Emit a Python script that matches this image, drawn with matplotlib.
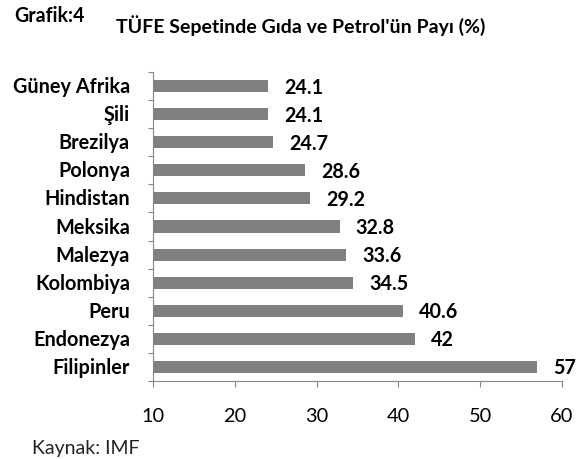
import matplotlib
matplotlib.use("Agg")
import matplotlib.pyplot as plt
from matplotlib.textpath import TextPath
from matplotlib.font_manager import FontProperties

# data (top to bottom)
countries = ["Güney Afrika", "Şili", "Brezilya", "Polonya", "Hindistan", "Meksika",
             "Malezya", "Kolombiya", "Peru", "Endonezya", "Filipinler"]
values = [24.1, 24.1, 24.7, 28.6, 29.2, 32.8, 33.6, 34.5, 40.6, 42, 57]
value_labels = ["24.1", "24.1", "24.7", "28.6", "29.2", "32.8", "33.6", "34.5", "40.6", "42", "57"]
xticks = [10, 20, 30, 40, 50, 60]

FAMILY = "Lato"  # close to Calibri
plt.rcParams["font.family"] = [FAMILY, "DejaVu Sans"]


def fit_size(text, width_px, weight="normal"):
    # font size (pt) that makes text about width_px wide at 100 dpi
    fp = FontProperties(family=FAMILY, weight=weight, size=10)
    w = TextPath((0, 0), text, prop=fp).get_extents().width  # in points at size 10
    return 10 * (width_px * 0.72) / w


lab_fs = fit_size("Güney Afrika", 115, "bold")
val_fs = fit_size("24.1", 37, "bold")
tick_fs = fit_size("10", 21)
title_fs = fit_size("TÜFE Sepetinde Gıda ve Petrol'ün Payı (%)", 367, "bold")
graf_fs = fit_size("Grafik:4", 69, "bold")
src_fs = fit_size("Kaynak: IMF", 105)

fig = plt.figure(figsize=(5.81, 4.59), dpi=100)
ax = fig.add_axes([153 / 581, 1 - 381 / 459, 409 / 581, 309 / 459])

pos = list(range(len(countries)))
ax.barh(pos, [v - 10 for v in values], left=10, height=0.43, color="#808080")

for p, v, t in zip(pos, values, value_labels):
    ax.annotate(t, (v, p), xytext=(16 * 0.72, -7.5 * 0.72), textcoords="offset points",
                va="baseline", ha="left", fontsize=val_fs, fontweight="bold")

for p, c in zip(pos, countries):
    ax.annotate(c, (0, p), xycoords=("axes fraction", "data"),
                xytext=(-23 * 0.72, -7 * 0.72), textcoords="offset points",
                va="baseline", ha="right", fontsize=lab_fs, fontweight="bold")

ax.set_ylim(len(countries) - 0.5, -0.5)
ax.set_xlim(10, 60)
ax.set_yticks([p - 0.5 for p in pos] + [len(countries) - 0.5])
ax.set_yticklabels([])
ax.tick_params(axis="y", length=3.6, color="#868686")
ax.set_xticks(xticks)
ax.tick_params(axis="x", length=4.3, color="#868686", labelsize=tick_fs, pad=15)

for s in ["top", "right"]:
    ax.spines[s].set_visible(False)
ax.spines["left"].set_color("#868686")
ax.spines["bottom"].set_color("#868686")

fig.text(14 / 581, 1 - 22 / 459, "Grafik:4", fontsize=graf_fs, fontweight="bold", va="baseline")
fig.text(116 / 581, 1 - 33 / 459, "TÜFE Sepetinde Gıda ve Petrol'ün Payı (%)",
         fontsize=title_fs, fontweight="bold", va="baseline")
fig.text(32 / 581, 1 - 454 / 459, "Kaynak: IMF", fontsize=src_fs, va="baseline", color="#222222")

fig.savefig("out.png", dpi=100)
